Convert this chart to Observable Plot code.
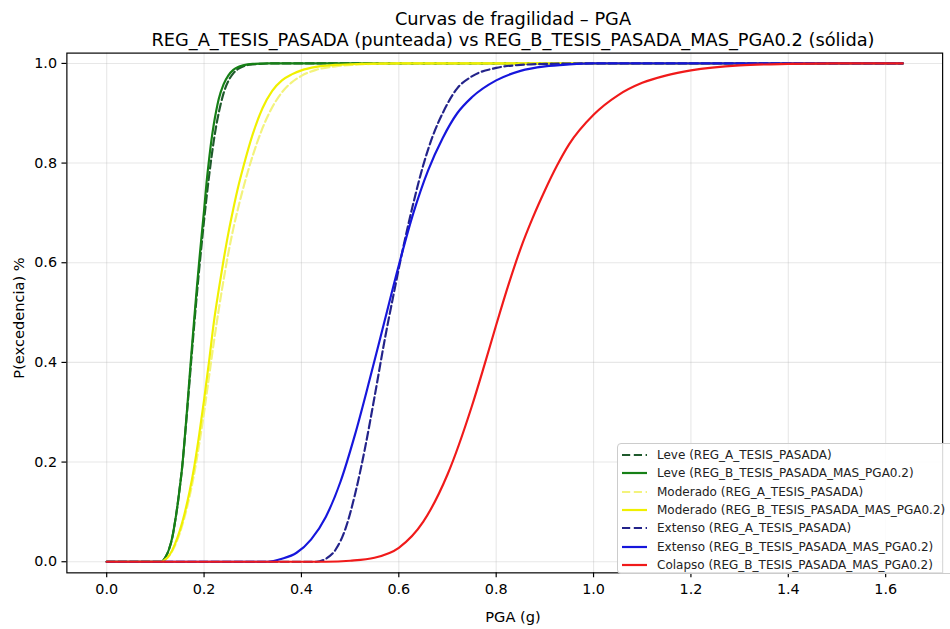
<!DOCTYPE html>
<html><head><meta charset="utf-8">
<script src="https://cdn.jsdelivr.net/npm/d3@7"></script>
<script src="https://cdn.jsdelivr.net/npm/@observablehq/plot@0.6"></script>
<style>
html,body{margin:0;padding:0;background:#fff;overflow:hidden;width:950px;height:629px;}
#wrap{position:relative;width:950px;height:629px;font-family:"DejaVu Sans",sans-serif;color:#000;overflow:hidden;}
#chart{position:absolute;left:0;top:0;}
.t{position:absolute;white-space:nowrap;line-height:1;}
#legend{position:absolute;left:617px;top:443px;width:340px;height:131px;border:1px solid #cccccc;border-radius:4px;background:rgba(255,255,255,0.85);box-sizing:border-box;}
.row{position:absolute;left:0;height:18px;display:flex;align-items:center;font-size:12px;color:#222;white-space:nowrap;}
.row svg{margin-left:4px;margin-right:10px;}
</style></head><body>
<div id="wrap"><div id="chart"></div></div>
<script>
// ---- texts ----
const titleLine1 = "Curvas de fragilidad – PGA";
const titleLine2 = "REG_A_TESIS_PASADA (punteada) vs REG_B_TESIS_PASADA_MAS_PGA0.2 (sólida)";
const xLabel = "PGA (g)";
const yLabel = "P(excedencia) %";
const xTicks = [0, 0.2, 0.4, 0.6, 0.8, 1.0, 1.2, 1.4, 1.6];
const yTicks = [0, 0.2, 0.4, 0.6, 0.8, 1.0];

// ---- series labels / styles ----
const seriesNames = [
  "Leve (REG_A_TESIS_PASADA)",
  "Leve (REG_B_TESIS_PASADA_MAS_PGA0.2)",
  "Moderado (REG_A_TESIS_PASADA)",
  "Moderado (REG_B_TESIS_PASADA_MAS_PGA0.2)",
  "Extenso (REG_A_TESIS_PASADA)",
  "Extenso (REG_B_TESIS_PASADA_MAS_PGA0.2)",
  "Colapso (REG_B_TESIS_PASADA_MAS_PGA0.2)"
];
const seriesColors = ["#1f5a2c", "#168016", "#f3f37c", "#f0f000", "#23238a", "#1616dc", "#f01a1a"];
const seriesDashed = [true, false, true, false, true, false, false];

// ---- values (PGA in g, probability) ----
const leveA_pga = [0, 0.112, 0.12, 0.128, 0.135, 0.14, 0.145, 0.15, 0.155, 0.16, 0.165, 0.17, 0.175, 0.18, 0.185, 0.19, 0.195, 0.20, 0.205, 0.21, 0.215, 0.22, 0.225, 0.23, 0.24, 0.25, 0.26, 0.27, 0.28, 0.30, 0.34, 1.635];
const leveA_p   = [0, 0, 0.008, 0.025, 0.05, 0.078, 0.11, 0.148, 0.19, 0.243, 0.30, 0.36, 0.42, 0.478, 0.534, 0.587, 0.637, 0.685, 0.73, 0.772, 0.81, 0.845, 0.875, 0.90, 0.94, 0.965, 0.98, 0.989, 0.994, 0.998, 1, 1];
const leveB_pga = [0, 0.112, 0.12, 0.128, 0.135, 0.14, 0.145, 0.15, 0.155, 0.16, 0.165, 0.17, 0.175, 0.18, 0.185, 0.19, 0.195, 0.20, 0.205, 0.21, 0.215, 0.22, 0.225, 0.23, 0.24, 0.25, 0.26, 0.27, 0.28, 0.30, 0.33, 1.635];
const leveB_p   = [0, 0, 0.008, 0.025, 0.05, 0.078, 0.11, 0.148, 0.19, 0.245, 0.305, 0.368, 0.43, 0.49, 0.548, 0.603, 0.655, 0.705, 0.76, 0.805, 0.845, 0.878, 0.905, 0.928, 0.958, 0.976, 0.987, 0.993, 0.996, 0.999, 1, 1];
const modA_pga  = [0, 0.112, 0.12, 0.13, 0.14, 0.15, 0.16, 0.17, 0.18, 0.19, 0.20, 0.21, 0.22, 0.23, 0.24, 0.25, 0.26, 0.27, 0.28, 0.30, 0.32, 0.34, 0.36, 0.38, 0.40, 0.43, 0.47, 0.52, 0.60, 1.635];
const modA_p    = [0, 0, 0.004, 0.014, 0.032, 0.057, 0.09, 0.13, 0.178, 0.236, 0.30, 0.37, 0.44, 0.505, 0.565, 0.62, 0.668, 0.71, 0.748, 0.815, 0.87, 0.912, 0.942, 0.962, 0.975, 0.987, 0.994, 0.998, 1, 1];
const modB_pga  = [0, 0.112, 0.12, 0.13, 0.14, 0.15, 0.16, 0.17, 0.18, 0.19, 0.20, 0.21, 0.22, 0.23, 0.24, 0.25, 0.26, 0.27, 0.28, 0.30, 0.32, 0.34, 0.36, 0.38, 0.40, 0.43, 0.47, 0.52, 0.60, 1.635];
const modB_p    = [0, 0, 0.004, 0.015, 0.035, 0.062, 0.097, 0.14, 0.192, 0.255, 0.325, 0.40, 0.48, 0.545, 0.605, 0.66, 0.708, 0.752, 0.79, 0.858, 0.91, 0.945, 0.966, 0.978, 0.986, 0.993, 0.997, 0.999, 1, 1];
const extA_pga  = [0, 0.43, 0.45, 0.47, 0.49, 0.51, 0.53, 0.55, 0.57, 0.59, 0.61, 0.63, 0.65, 0.67, 0.69, 0.72, 0.75, 0.80, 0.85, 0.90, 1.0, 1.635];
const extA_p    = [0, 0, 0.006, 0.024, 0.065, 0.135, 0.225, 0.33, 0.44, 0.54, 0.635, 0.72, 0.795, 0.855, 0.90, 0.95, 0.974, 0.991, 0.997, 0.999, 1, 1];
const extB_pga  = [0, 0.33, 0.36, 0.39, 0.42, 0.45, 0.48, 0.51, 0.54, 0.57, 0.60, 0.63, 0.66, 0.69, 0.72, 0.75, 0.80, 0.85, 0.90, 0.95, 1.0, 1.635];
const extB_p    = [0, 0, 0.006, 0.018, 0.045, 0.09, 0.16, 0.255, 0.365, 0.48, 0.595, 0.70, 0.785, 0.85, 0.90, 0.932, 0.966, 0.985, 0.994, 0.998, 1, 1];
const col_pga   = [0, 0.45, 0.50, 0.55, 0.60, 0.65, 0.70, 0.75, 0.775, 0.80, 0.825, 0.85, 0.875, 0.90, 0.925, 0.95, 1.00, 1.05, 1.10, 1.15, 1.20, 1.30, 1.40, 1.50, 1.635];
const col_p     = [0, 0, 0.002, 0.008, 0.028, 0.08, 0.175, 0.312, 0.392, 0.475, 0.555, 0.628, 0.69, 0.745, 0.795, 0.838, 0.897, 0.936, 0.961, 0.976, 0.986, 0.996, 0.999, 1, 1];

const seriesX = [leveA_pga, leveB_pga, modA_pga, modB_pga, extA_pga, extB_pga, col_pga];
const seriesY = [leveA_p, leveB_p, modA_p, modB_p, extA_p, extB_p, col_p];

const lineW = 2.2;
const dash = "8.2,3.6";

const lineMarks = seriesNames.map((name, i) => {
  const rows = seriesX[i].map((x, j) => ({x, y: seriesY[i][j]}));
  const opts = {x: "x", y: "y", stroke: seriesColors[i], strokeWidth: lineW, curve: "monotone-x", strokeLinejoin: "round"};
  if (seriesDashed[i]) opts.strokeDasharray = dash;
  return Plot.line(rows, opts);
});

const gridStyle = {stroke: "#b0b0b0", strokeOpacity: 0.3, strokeWidth: 1.1};

const chart = Plot.plot({
  width: 966,
  height: 629,
  marginLeft: 67.5,
  marginRight: 8,
  marginTop: 53.5,
  marginBottom: 47,
  style: {fontFamily: "DejaVu Sans, sans-serif", fontSize: "14.6px", color: "#000", background: "transparent"},
  x: {domain: [-0.0818, 1.717]},
  y: {domain: [-0.0223, 1.0207]},
  marks: [
    Plot.gridX({ticks: xTicks, ...gridStyle}),
    Plot.gridY({ticks: yTicks, ...gridStyle}),
    ...lineMarks,
    Plot.axisX({ticks: xTicks, tickSize: 5, tickPadding: 6, tickFormat: d3.format(".1f"), label: null, strokeWidth: 1.2}),
    Plot.axisY({ticks: yTicks, tickSize: 5, tickPadding: 5, tickFormat: d3.format(".1f"), label: null, strokeWidth: 1.2}),
    Plot.frame({stroke: "#000", strokeWidth: 1.2})
  ]
});
document.getElementById("chart").appendChild(chart);

const wrap = document.getElementById("wrap");
function addText(txt, css) {
  const d = document.createElement("div");
  d.className = "t";
  d.textContent = txt;
  Object.assign(d.style, css);
  wrap.appendChild(d);
  return d;
}
addText(titleLine1, {left: "513px", top: "9.9px", fontSize: "17.8px", transform: "translateX(-50%)"});
addText(titleLine2, {left: "513px", top: "30.9px", fontSize: "17.8px", transform: "translateX(-50%)"});
addText(xLabel, {left: "513px", top: "609.8px", fontSize: "14.6px", transform: "translateX(-50%)"});
addText(yLabel, {left: "19px", top: "318px", fontSize: "14.6px", transform: "translate(-50%,-50%) rotate(-90deg)"});

// legend
const leg = document.createElement("div");
leg.id = "legend";
wrap.appendChild(leg);
seriesNames.forEach((name, i) => {
  const r = document.createElement("div");
  r.className = "row";
  r.style.top = (2 + i * 18.3) + "px";
  const ns = "http://www.w3.org/2000/svg";
  const s = document.createElementNS(ns, "svg");
  s.setAttribute("width", "25"); s.setAttribute("height", "10");
  const l = document.createElementNS(ns, "line");
  l.setAttribute("x1", "0"); l.setAttribute("x2", "25");
  l.setAttribute("y1", "5"); l.setAttribute("y2", "5");
  l.setAttribute("stroke", seriesColors[i]);
  l.setAttribute("stroke-width", lineW);
  if (seriesDashed[i]) l.setAttribute("stroke-dasharray", dash);
  s.appendChild(l);
  r.appendChild(s);
  const sp = document.createElement("span");
  sp.textContent = name;
  r.appendChild(sp);
  leg.appendChild(r);
});
</script>
</body></html>
